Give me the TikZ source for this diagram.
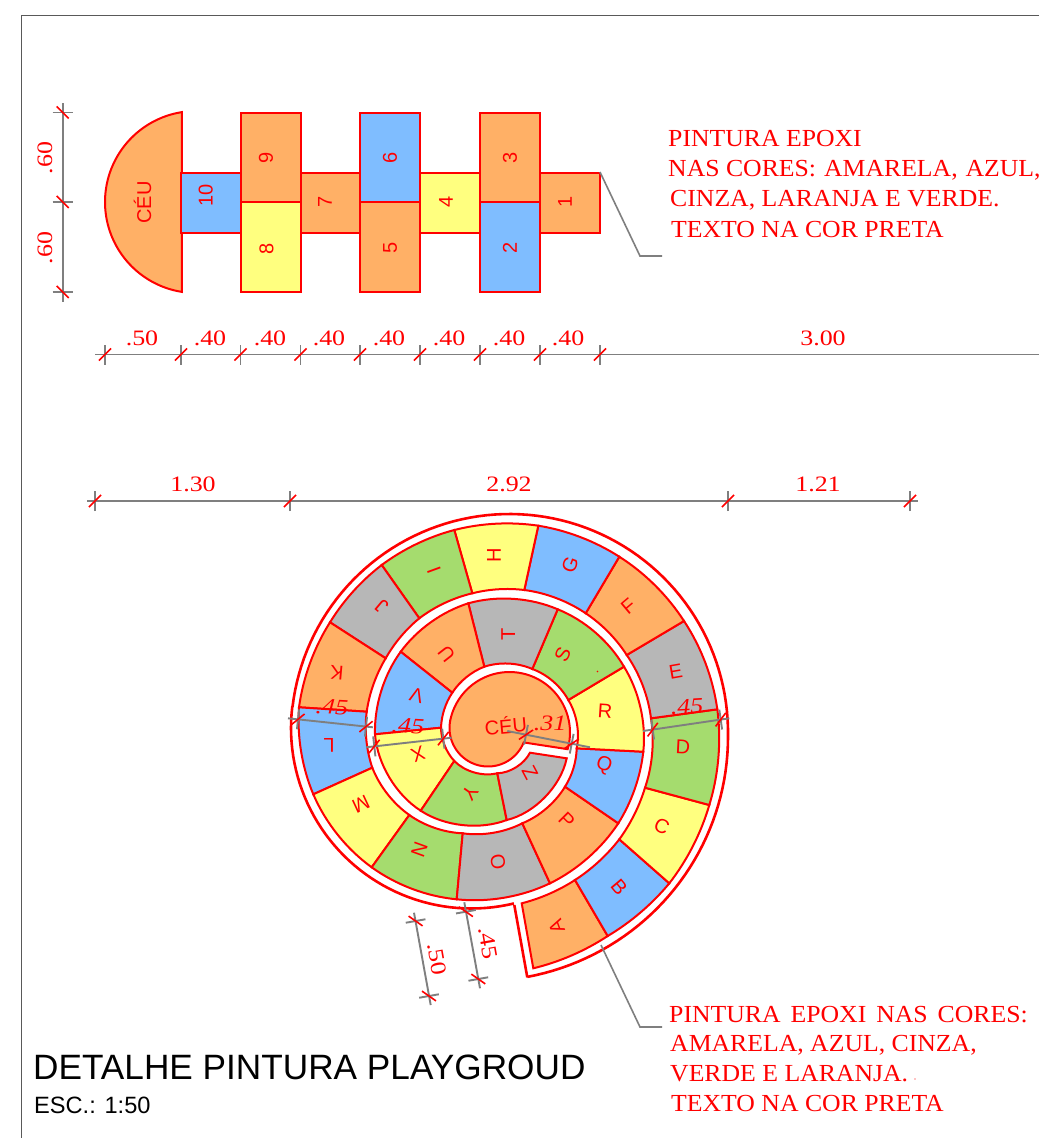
\documentclass[tikz,border=0pt]{standalone}
\usepackage{fontspec}
\setmainfont{Liberation Sans}
\newfontfamily\srf[FakeStretch=1.05]{Liberation Serif}
\newfontfamily\dmf[FakeStretch=1.18]{Liberation Serif}
\usetikzlibrary{calc}
\definecolor{cor}{HTML}{FFB066}
\definecolor{cbl}{HTML}{7FBDFF}
\definecolor{cye}{HTML}{FFFF7F}
\definecolor{cgr}{HTML}{A5DC6E}
\definecolor{cgy}{HTML}{B7B7B7}
\definecolor{cdm}{HTML}{7F7F7F}
\tikzset{
 x=1pt,y=-1pt,
 redline/.style={draw=red,line width=2pt,line join=miter},
 outerline/.style={draw=red,line width=2.6pt,line join=miter},
 dimline/.style={draw=cdm,line width=1.9pt},
 slashline/.style={draw=red,line width=1.6pt},
 leader/.style={draw=cdm,line width=1.6pt},
 lab/.style={text=red,inner sep=0pt,font=\fontsize{20}{20}\selectfont},
 celllab/.style={text=red,inner sep=0pt,font=\fontsize{20}{20}\selectfont},
 dimlab/.style={text=red,inner sep=0pt,font=\dmf\fontsize{22}{22}\selectfont},
 dimit/.style={text=red,inner sep=0pt,font=\dmf\itshape\fontsize{22}{22}\selectfont},
 note/.style={text=red,inner sep=0pt,anchor=base west,font=\srf\fontsize{24.5}{24.5}\selectfont},
}
\newcommand\wsp{\hspace{3.5pt}}
\newcommand\dtick[2]{% coordinate name, direction
 \draw[dimline] (#1) ++(#2+90:10) -- ++(#2-90:20);
 \draw[slashline] (#1) ++(#2-45:8.5) -- ++(#2+135:17);
}
% colour, divider a, divider b, R outer, R inner, letter, x, y, rotation
\newcommand\spcell[9]{%
 \pgfpointdiff{\pgfpointanchor{o#2}{center}}{\pgfpointanchor{o#3}{center}}\pgfgetlastxy{\ax}{\ay}%
 \pgfmathsetmacro\ao{asin(min(0.99,veclen(\ax,\ay)/(2*#4)))}%
 \pgfpointdiff{\pgfpointanchor{i#2}{center}}{\pgfpointanchor{i#3}{center}}\pgfgetlastxy{\ax}{\ay}%
 \pgfmathsetmacro\ai{asin(min(0.99,veclen(\ax,\ay)/(2*#5)))}%
 \path[redline,fill=#1] (o#3) to[bend left=\ao,looseness=.85] (o#2) -- (i#2) to[bend right=\ai,looseness=.85] (i#3) -- cycle;
 \node[celllab,rotate=#9] (c#2) at (#7,#8) {#6};
}
\begin{document}
\begin{tikzpicture}
\useasboundingbox (0,0) rectangle (1039,1138);
\fill[white] (0,0) rectangle (1039,1138);
% frame
\draw[draw=black!65,line width=.9pt] (1039,15) -- (21.5,15) -- (21.5,1138);

% hopscotch
\path[redline,fill=cor] plot[domain=99:261,samples=50,smooth] ({196+91*cos(\x)},{202-91*sin(\x)}) -- cycle;
\node[lab,rotate=90] (hceu) at (142.5,202.5) {CÉU};
\path[redline,fill=cbl] (181,172.5) rectangle (240.5,232.5);
\node[lab,rotate=90] (h10) at (205.7,195) {10};
\path[redline,fill=cor] (240.5,112.5) rectangle (300.5,202);
\node[lab,rotate=90] (h9) at (266,158) {9};
\path[redline,fill=cye] (240.5,202) rectangle (300.5,292);
\node[lab,rotate=90] (h8) at (266.5,249) {8};
\path[redline,fill=cor] (300.5,172.5) rectangle (360,232.5);
\node[lab,rotate=90] (h7) at (325,202) {7};
\path[redline,fill=cbl] (360,112.5) rectangle (420,202);
\node[lab,rotate=90] (h6) at (390,158) {6};
\path[redline,fill=cor] (360,202) rectangle (420,292);
\node[lab,rotate=90] (h5) at (390,248) {5};
\path[redline,fill=cye] (420,172.5) rectangle (480,232.5);
\node[lab,rotate=90] (h4) at (446,202) {4};
\path[redline,fill=cor] (480,112.5) rectangle (540,202);
\node[lab,rotate=90] (h3) at (510,158) {3};
\path[redline,fill=cbl] (480,202) rectangle (540,292);
\node[lab,rotate=90] (h2) at (510,248) {2};
\path[redline,fill=cor] (540,172.5) rectangle (600,232.5);
\node[lab,rotate=90] (h1) at (565,202) {1};

% top dims
\foreach \n/\xx in {a/105,b/181,c/240.5,d/300.5,e/360,f/420,g/480,h/540,j/600}
  {\coordinate (t\n) at (\xx,354.5);}
\coordinate (tl) at (95,354.5); \coordinate (tr) at (1039,354.5);
\draw[dimline] (tl) -- (tr);
\foreach \n in {a,b,c,d,e,f,g,h,j} {\dtick{t\n}{0}}
\foreach \n/\xx/\t in {1/142/.50,2/210/.40,3/270/.40,4/329/.40,5/389/.40,6/449/.40,7/509/.40,8/568/.40,9/823/3.00}
  {\node[dimlab] (tt\n) at (\xx,338) {\t};}
\coordinate (va) at (62.7,112.5); \coordinate (vb) at (62.7,202); \coordinate (vc) at (62.7,292);
\coordinate (vt) at (62.7,103); \coordinate (vu) at (62.7,302);
\draw[dimline] (vt) -- (vu);
\dtick{va}{90}\dtick{vb}{90}\dtick{vc}{90}
\node[dimlab,rotate=90] (vl1) at (45,158) {.60};
\node[dimlab,rotate=90] (vl2) at (45,248) {.60};

% note 1
\node[note] (n11) at (668,146) {PINTURA EPOXI};
\node[note] (n12) at (668,176) {NAS CORES:\hspace{1.5pt} AMARELA,\hspace{1.5pt} AZUL,};
\node[note] (n13) at (670,206.5) {CINZA, LARANJA E VERDE.};
\node[note] (n14) at (671,237) {TEXTO NA COR PRETA};
\coordinate (l1a) at (600,172); \coordinate (l1b) at (640,256); \coordinate (l1c) at (662,256);
\draw[leader] (l1a) -- (l1b) -- (l1c);

% second dims
\foreach \n/\xx in {a/95,b/290,c/728,d/910} {\coordinate (m\n) at (\xx,501);}
\coordinate (ml) at (87,501); \coordinate (mr) at (918,501);
\draw[dimline] (ml) -- (mr);
\foreach \n in {a,b,c,d} {\dtick{m\n}{0}}
\node[dimlab] (ml1) at (193,484) {1.30};
\node[dimlab] (ml2) at (509,484) {2.92};
\node[dimlab] (ml3) at (818,484) {1.21};

% spiral dividers
\foreach \n/\ox/\oy/\ix/\iy in {
0/533.3/968.3/521.7/903.3, 1/607.7/936/575/880, 2/669.3/883.3/619.3/839.3,
3/709.3/805/645/787.7, 4/717.3/709.3/651/718.3, 5/684/621/626.7/655,
6/619.3/556.7/585.7/613.3, 7/538.3/525.7/524.3/590, 8/454.3/530/472.3/593.3,
9/381.7/565/419.3/618.3, 10/330/622.3/385.7/658.3, 11/299/707.3/366.7/711.7,
12/313.3/794.3/372.3/767.7, 13/371.7/867.3/409.3/815, 14/456.7/899.3/462.7/833.3,
15/550/883.3/522.3/823.3, 16/618.3/823.3/565/786.7, 17/643.3/751.7/576.7/748.3,
18/624/666.7/568.3/700, 19/557.7/609.3/532.3/669, 20/468.3/603.3/484.3/666.7,
21/400.7/651.7/452.3/692.7, 22/375/734.3/441/727.7, 23/420.7/810.7/454.3/761,
24/506.7/820/497.3/773.3, 25/566.7/758.3/530/752.7}
 {\coordinate (o\n) at (\ox,\oy); \coordinate (i\n) at (\ix,\iy);}

% outermost line
\coordinate (s0) at (514.3,905); \coordinate (s1) at (527.3,977.3);
\path[outerline,line join=round] plot[domain=283.6:173.25,samples=50] ({471.5+180.5*cos(\x)},{728-180.5*sin(\x)})
  -- plot[domain=173.25:-1,samples=80] ({509.5+218.5*cos(\x)},{732.5-218.5*sin(\x)})
  -- plot[domain=0:-82.3,samples=40] ({495+(233+9*(\x/82)^2)*cos(\x)},{737-(233+9*(\x/82)^2)*sin(\x)})
  -- (s1);
\draw[outerline] (s1) -- (s0);

% cells
\spcell{cor}{0}{1}{237}{180}{A}{556.7}{926.7}{110}
\spcell{cbl}{1}{2}{237}{180}{B}{619.3}{886.7}{-50}
\spcell{cye}{2}{3}{235}{172}{C}{661.7}{826.7}{-25}
\spcell{cgr}{3}{4}{225}{145}{D}{683}{747}{-3}
\spcell{cgy}{4}{5}{212}{142}{E}{675.7}{671.7}{10}
\spcell{cor}{5}{6}{212}{142}{F}{628.3}{606.7}{40}
\spcell{cbl}{6}{7}{212}{142}{G}{570}{565}{70}
\spcell{cye}{7}{8}{212}{142}{H}{494}{555}{90}
\spcell{cgr}{8}{9}{212}{142}{I}{434}{570}{110}
\spcell{cgy}{9}{10}{212}{142}{J}{381.7}{606.7}{140}
\spcell{cor}{10}{11}{212}{142}{K}{337}{673}{175}
\spcell{cbl}{11}{12}{190}{125}{L}{329}{745}{180}
\spcell{cye}{12}{13}{175}{105}{M}{361}{804}{205}
\spcell{cgr}{13}{14}{173}{100}{N}{419.3}{850}{250}
\spcell{cgy}{14}{15}{173}{100}{O}{498}{862}{280}
\spcell{cor}{15}{16}{173}{90}{P}{566.7}{820}{-45}
\spcell{cbl}{16}{17}{170}{75}{Q}{604}{765}{-20}
\spcell{cye}{17}{18}{135}{67}{R}{605}{710.7}{-4}
\spcell{cgr}{18}{19}{134}{67}{S}{562.7}{655}{65}
\spcell{cgy}{19}{20}{134}{67}{T}{508.3}{634}{90}
\spcell{cor}{20}{21}{134}{67}{U}{446.7}{654}{128}
\spcell{cbl}{21}{22}{134}{67}{V}{416.7}{695}{165}
\spcell{cye}{22}{23}{100}{50}{X}{418.3}{754}{200}
\spcell{cgr}{23}{24}{95}{45}{Y}{470}{792.7}{235}
\spcell{cgy}{24}{25}{80}{38}{Z}{530}{773}{-62}

% CEU
\coordinate (k0) at (567.7,749.2);
\path[redline,fill=cor] plot[domain=-16:168.2,samples=60] ({509.5+60.5*cos(\x)},{732.5-60.5*sin(\x)})
  -- plot[domain=168.2:338,samples=50] ({488+38.5*cos(\x)},{728-38.5*sin(\x)}) -- cycle;
\node[lab,rotate=5] (ceu) at (505.7,725) {CÉU};
\fill[red] (597.5,671.5) circle (0.9);
\fill[red] (915,1079) circle (0.6);

% spiral dims
\coordinate (d1a) at (288,718.3); \coordinate (d1b) at (373,727.3); \coordinate (d1c) at (298,719.3); \coordinate (d1d) at (366,726.6);
\draw[dimline] (d1a) -- (d1b); \dtick{d1c}{6}\dtick{d1d}{6}
\coordinate (d2a) at (366,747.3); \coordinate (d2b) at (451.7,737.7); \coordinate (d2c) at (374.3,746.4); \coordinate (d2d) at (443.3,738.6);
\draw[dimline] (d2a) -- (d2b); \dtick{d2c}{-6.5}\dtick{d2d}{-6.5}
\coordinate (d3a) at (643,731); \coordinate (d3b) at (729.3,718.3); \coordinate (d3c) at (652.7,729.6); \coordinate (d3d) at (720.7,719.6);
\draw[dimline] (d3a) -- (d3b); \dtick{d3c}{-8}\dtick{d3d}{-8}
\coordinate (d4a) at (507.3,731); \coordinate (d4b) at (590,747.3); \coordinate (d4c) at (526,734.7); \coordinate (d4d) at (571.7,743.7);
\draw[dimline] (d4a) -- (d4b); \dtick{d4c}{11}\dtick{d4d}{11}
\coordinate (d5a) at (464.3,902.3); \coordinate (d5b) at (480,988.3); \coordinate (d5c) at (465.9,911.7); \coordinate (d5d) at (478.3,979);
\draw[dimline] (d5a) -- (d5b); \dtick{d5c}{80}\dtick{d5d}{80}
\coordinate (d6a) at (414,912.7); \coordinate (d6b) at (430.7,1005); \coordinate (d6c) at (415.6,921); \coordinate (d6d) at (429,996);
\draw[dimline] (d6a) -- (d6b); \dtick{d6c}{80}\dtick{d6d}{80}
\node[dimit,rotate=-3] (q1) at (332,707) {.45};
\node[dimit,rotate=-3] (q2) at (408,726) {.45};
\node[dimit,rotate=3] (q3) at (687,707) {.45};
\node[dimit,rotate=0] (q4) at (550,723) {.31};
\node[dimlab,rotate=-80] (q5) at (488,943) {.45};
\node[dimlab,rotate=-80] (q6) at (437,959) {.50};

% note 2
\coordinate (l2a) at (601,945); \coordinate (l2b) at (640,1027); \coordinate (l2c) at (662,1027);
\draw[leader] (l2a) -- (l2b) -- (l2c);
\node[note] (n21) at (669,1022) {PINTURA\wsp{} EPOXI\wsp{} NAS\wsp{} CORES:};
\node[note] (n22) at (670,1051) {AMARELA, AZUL, CINZA,};
\node[note] (n23) at (670,1081) {VERDE E LARANJA.};
\node[note] (n24) at (671,1111) {TEXTO NA COR PRETA};

% title
\node[anchor=base west,inner sep=0pt,font=\fontsize{35.2}{35}\selectfont] (title) at (33,1079) {DETALHE PINTURA PLAYGROUD};
\node[anchor=base west,inner sep=0pt,font=\fontsize{23.6}{24}\selectfont] (esc) at (34,1113) {ESC.: 1:50};
\end{tikzpicture}
\end{document}
